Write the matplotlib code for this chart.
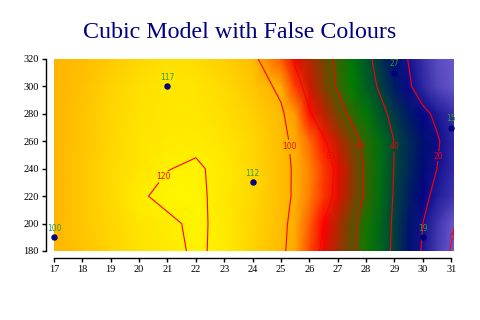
import matplotlib
matplotlib.use("Agg")

import numpy as np
import matplotlib.pyplot as plt
from matplotlib.colors import LinearSegmentedColormap, Normalize

TITLE = "Cubic Model with False Colours"

# scattered input points (x, y, value)
pt_x = [17, 21, 24, 29, 31, 30]
pt_y = [190, 300, 230, 310, 270, 190]
pt_z = [100, 117, 112, 27, 15, 19]

# surface values, one list per y row
x_cols = [17, 18, 19, 20, 21, 22, 23, 24, 25, 25.5, 26, 26.5, 27, 27.5,
          28, 28.5, 29, 29.5, 30, 30.5, 31.1]
y_rows = [180, 200, 220, 240, 260, 280, 300, 320]
z_y180 = [100.5, 105, 110, 115, 118, 121, 118.5, 110, 102.2, 95.7, 86.5, 77.7,
          69.9, 62.2, 54.1, 46, 37.6, 28.2, 18.8, 8.7, -3]
z_y200 = [100.5, 106, 111, 116, 118.5, 121.5, 118, 111, 102.7, 96.9, 88.5, 80,
          71.4, 62.8, 54.5, 46.5, 38.2, 29.1, 20, 10.5, 0.5]
z_y220 = [100.5, 106, 112, 119, 122, 122, 117, 112, 103.4, 98.6, 91.7, 84.8,
          77.1, 67.6, 58.1, 48.3, 38.9, 31, 23.1, 16.7, 10]
z_y240 = [100.5, 106, 112, 116, 119.8, 121, 118, 112, 103.4, 98.7, 92, 85.3,
          78, 68, 58.1, 48.8, 39.6, 33.1, 26.5, 20, 13]
z_y260 = [100.5, 105, 111, 116, 118, 118.5, 116, 111, 102.9, 97.7, 89.7, 81.6,
          73.2, 64.7, 56.3, 48, 39.8, 33.6, 27.4, 21.2, 14]
z_y280 = [100.5, 105, 111, 115, 117, 117, 114, 109, 101.8, 93.8, 81.3, 72.8,
          64.8, 57.2, 50.3, 43.4, 36.6, 29.7, 22.8, 17.7, 12]
z_y300 = [100.5, 104, 110, 114, 117, 116, 112, 106, 97.5, 85, 75, 66.7,
          58.7, 52, 45.3, 38.3, 30, 21.7, 13.9, 6.2, 1]
z_y320 = [100.5, 103, 107, 111, 114, 113, 109, 103, 87.9, 78.1, 71.4, 64.7,
          57.8, 50.5, 43.2, 35.5, 27.5, 19.5, 11.9, 4.2, 0.5]

levels = [0, 20, 40, 60, 80, 100, 120]

# false colour stops (value, colour)
stop_vals = [0, 24, 52, 80, 95, 125]
stop_cols = ["#6a5acd", "#000080", "#008000", "#ff0000", "#ffa500", "#ffff00"]

# where ChartDirector put the contour labels
LABEL_POS = [(20.8, 235), (25.36, 256), (26.79, 249), (27.79, 256),
             (28.99, 256), (30.59, 249), (30.98, 190)]

Z = np.array([z_y180, z_y200, z_y220, z_y240, z_y260, z_y280, z_y300, z_y320])
X, Y = np.meshgrid(x_cols, y_rows)

lo, hi = stop_vals[0], stop_vals[-1]
cmap = LinearSegmentedColormap.from_list(
    "false", [((v - lo) / (hi - lo), c) for v, c in zip(stop_vals, stop_cols)])
norm = Normalize(vmin=lo, vmax=hi)

fig = plt.figure(figsize=(4.8, 3.2), dpi=100)
ax = fig.add_axes([54 / 480, 1 - 251 / 320, 400 / 480, 192 / 320])

ax.pcolormesh(X, Y, Z, shading="gouraud", cmap=cmap, norm=norm, rasterized=True)
cs = ax.contour(X, Y, Z, levels=levels, colors="red", linewidths=0.8)
labels = ax.clabel(cs, fmt="%d", fontsize=5.5, colors="red", inline=True,
                   inline_spacing=0, manual=LABEL_POS)
for t in labels:
    t.set_rotation(0)

ax.scatter(pt_x, pt_y, s=13, color="#000080", zorder=5, clip_on=False)
for x, y, z in zip(pt_x, pt_y, pt_z):
    ax.annotate(str(z), (x, y), xytext=(0, 6.5), textcoords="offset points",
                ha="center", va="center", fontsize=5.5, color="#339933",
                annotation_clip=False, zorder=6)

ax.set_xlim(17, 31.1)
ax.set_ylim(180, 320)
ax.set_xticks(range(17, 32))
ax.set_yticks(range(180, 321, 20))

for side in ("top", "right"):
    ax.spines[side].set_visible(False)
ax.spines["left"].set_position(("outward", 5.8))
ax.spines["bottom"].set_position(("outward", 5.3))
ax.spines["bottom"].set_bounds(17, 31)
for side in ("left", "bottom"):
    ax.spines[side].set_linewidth(1.0)
ax.tick_params(direction="out", length=3, width=1.0, labelsize=7.5, pad=2)
for lab in ax.get_xticklabels() + ax.get_yticklabels():
    lab.set_family("Liberation Serif")

fig.text(0.5, 1 - 33 / 320, TITLE, ha="center", va="center", fontsize=17.3,
         color="#000080", family="Liberation Serif")

fig.savefig("out.png", dpi=100)
